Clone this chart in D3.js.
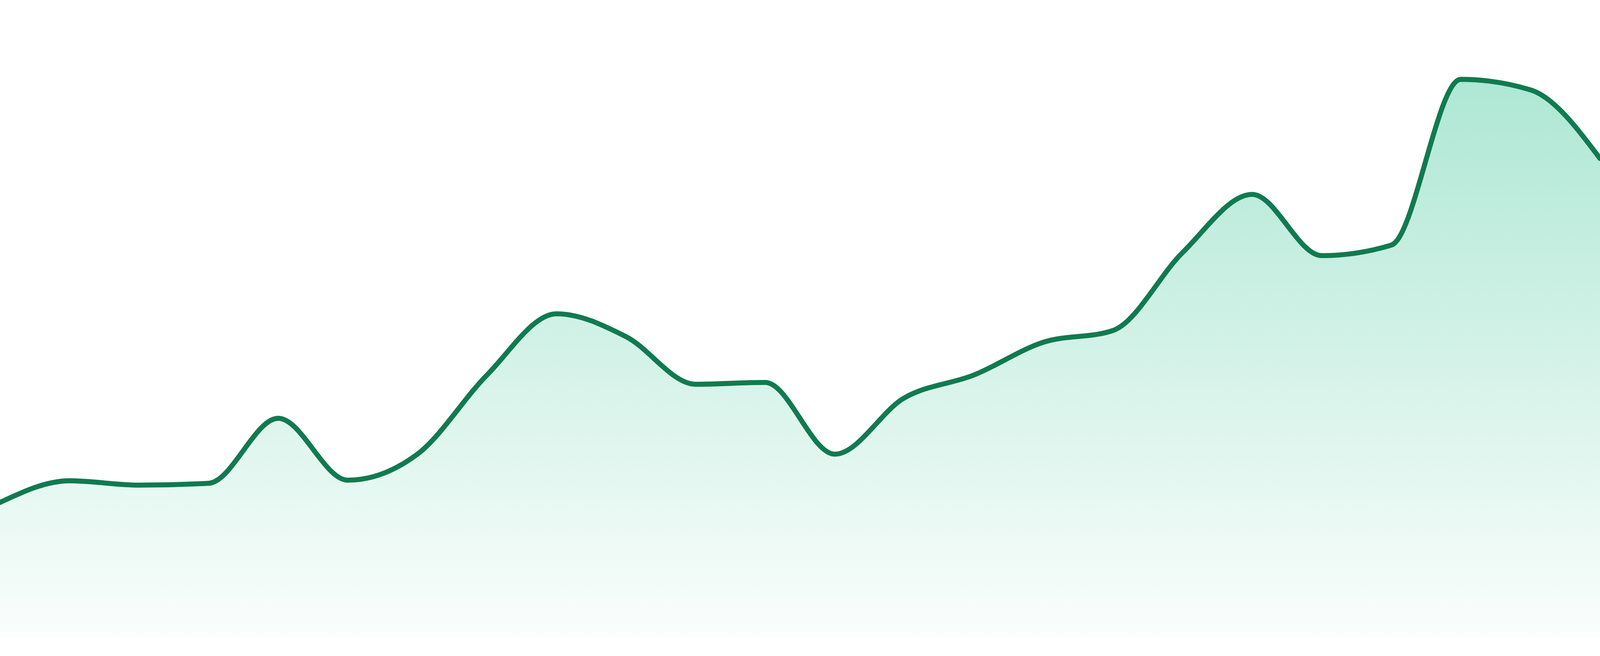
<!DOCTYPE html>
<html>
<head>
<meta charset="utf-8">
<script src="https://cdn.jsdelivr.net/npm/d3@7"></script>
<style>
  html, body { margin: 0; padding: 0; background: #ffffff; overflow: hidden; width: 100%; height: 100%; }
  #chart { width: 100vw; height: 100vh; }
  svg { display: block; }
</style>
</head>
<body>
<div id="chart"></div>
<script>
// ---- data ----
const categories = d3.range(24).map(i => "P" + (i + 1));
const values = [21.8, 25.3, 24.6, 24.9, 35.4, 25.4, 29.6, 42.4, 52.3, 48.6, 40.9, 41.2,
                29.6, 38.7, 42.4, 47.7, 49.6, 62.2, 71.6, 61.7, 63.4, 90.2, 88.5, 77.4];
const yDomain = [0, 100];

// ---- layout: proportions of a 4800x1680 design, sized to the real viewport ----
const W = window.innerWidth || 4800;
const H = window.innerHeight || 1680;
const k = W / 4800;
const baseY = H * (1632 / 1680);
const topY = H * (48 / 1680);

const svg = d3.select("#chart").append("svg")
  .attr("width", W)
  .attr("height", H);

const x = d3.scalePoint().domain(categories).range([0, W]);
const y = d3.scaleLinear().domain(yDomain).range([baseY, topY]);

const data = categories.map((c, i) => ({ c, v: values[i] }));

const defs = svg.append("defs");
const grad = defs.append("linearGradient")
  .attr("id", "fillGrad")
  .attr("x1", 0).attr("y1", 0).attr("x2", 0).attr("y2", 1);
grad.append("stop").attr("offset", "0%").attr("stop-color", "#10b981").attr("stop-opacity", 0.34);
grad.append("stop").attr("offset", "100%").attr("stop-color", "#10b981").attr("stop-opacity", 0.02);

const area = d3.area()
  .x(d => x(d.c))
  .y0(y(0))
  .y1(d => y(d.v))
  .curve(d3.curveMonotoneX);

const line = d3.line()
  .x(d => x(d.c))
  .y(d => y(d.v))
  .curve(d3.curveMonotoneX);

svg.append("path")
  .datum(data)
  .attr("d", area)
  .attr("fill", "url(#fillGrad)");

svg.append("path")
  .datum(data)
  .attr("d", line)
  .attr("fill", "none")
  .attr("stroke", "#117a50")
  .attr("stroke-width", 15 * k)
  .attr("stroke-linejoin", "round")
  .attr("stroke-linecap", "round");
</script>
</body>
</html>
